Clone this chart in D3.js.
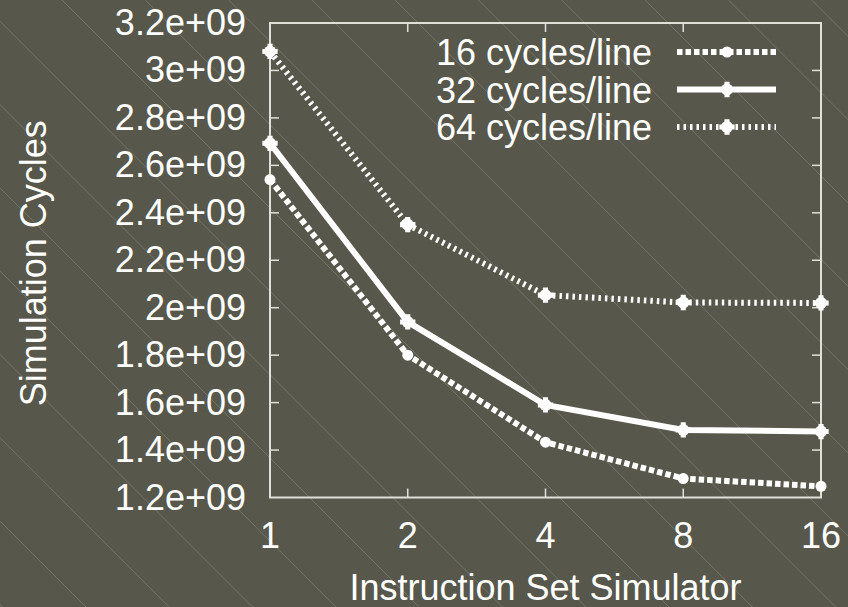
<!DOCTYPE html>
<html>
<head>
<meta charset="utf-8">
<script src="https://cdn.jsdelivr.net/npm/d3@7"></script>
<style>
  body{margin:0;background:#56564a;}
  svg{display:block;}
  text{font-family:"Liberation Sans",Arial,sans-serif;fill:#fff;}
</style>
</head>
<body>
<svg id="chart"></svg>
<script>
// simulator counts on x, one series per cache line latency
const simulators=[1,2,4,8,16];
const cycles16=[2.54e9,1.80e9,1.433e9,1.28e9,1.247e9];
const cycles32=[2.693e9,1.94e9,1.59e9,1.485e9,1.478e9];
const cycles64=[3.08e9,2.35e9,2.053e9,2.022e9,2.02e9];
const seriesNames=["16 cycles/line","32 cycles/line","64 cycles/line"];
const yTicks=[1.2e9,1.4e9,1.6e9,1.8e9,2e9,2.2e9,2.4e9,2.6e9,2.8e9,3e9,3.2e9];

window.onload=function(){
	const W=848,H=607;
	const margin={left:270,top:23,right:27,bottom:109.5};
	const svg=d3.select("#chart").attr("width",W).attr("height",H);

	//background with thin diagonal stripes
	svg.append("rect").attr("width",W).attr("height",H).attr("fill","#57574b");
	const sp=83.3;
	svg.append("g").selectAll("line")
		.data(d3.range(-9,12))
		.enter().append("line")
			.attr("x1",function(k){return 62+k*sp;})
			.attr("y1",0)
			.attr("x2",function(k){return 62+k*sp+H;})
			.attr("y2",H)
			.style("stroke","#7c7c70")
			.style("stroke-width",0.8);

	const x=d3.scaleLog().base(2).domain([1,16]).range([margin.left,W-margin.right]);
	const y=d3.scaleLinear().domain([1.2e9,3.2e9]).range([H-margin.bottom,margin.top]);
	const fmt=function(v){return (+(v/1e9).toFixed(1))+"e+09";};
	const axisCol="#e0e0d8";

	//ticks on all four sides, pointing in
	const inner=simulators.slice(1,-1),innerY=yTicks.slice(1,-1);
	const tk=svg.append("g").style("stroke",axisCol).style("stroke-width",1.5);
	tk.selectAll(".tb").data(inner).enter().append("line")
		.attr("x1",function(d){return x(d);}).attr("x2",function(d){return x(d);})
		.attr("y1",y.range()[0]).attr("y2",y.range()[0]-9);
	tk.selectAll(".tt").data(inner).enter().append("line")
		.attr("x1",function(d){return x(d);}).attr("x2",function(d){return x(d);})
		.attr("y1",y.range()[1]).attr("y2",y.range()[1]+9);
	tk.selectAll(".tl").data(innerY).enter().append("line")
		.attr("y1",function(d){return y(d);}).attr("y2",function(d){return y(d);})
		.attr("x1",x.range()[0]).attr("x2",x.range()[0]+9);
	tk.selectAll(".tr").data(innerY).enter().append("line")
		.attr("y1",function(d){return y(d);}).attr("y2",function(d){return y(d);})
		.attr("x1",x.range()[1]).attr("x2",x.range()[1]-9);
	svg.append("rect")
		.attr("x",x.range()[0]).attr("y",y.range()[1])
		.attr("width",x.range()[1]-x.range()[0]).attr("height",y.range()[0]-y.range()[1])
		.attr("fill","none").style("stroke",axisCol).style("stroke-width",2);

	//tick labels
	svg.append("g").selectAll("text").data(yTicks).enter().append("text")
		.attr("x",246).attr("y",function(d){return y(d)+12;})
		.attr("text-anchor","end").style("font-size","36px")
		.text(fmt);
	svg.append("g").selectAll("text").data(simulators).enter().append("text")
		.attr("x",function(d){return x(d);}).attr("y",548)
		.attr("text-anchor","middle").style("font-size","36px")
		.text(function(d){return d;});

	//axis titles
	svg.append("text")
		.attr("transform","translate(46,"+((y.range()[0]+y.range()[1])/2+3)+") rotate(-90)")
		.attr("text-anchor","middle").style("font-size","36px")
		.text("Simulation Cycles");
	svg.append("text")
		.attr("x",(x.range()[0]+x.range()[1])/2).attr("y",600)
		.attr("text-anchor","middle").style("font-size","36px")
		.text("Instruction Set Simulator");

	//series
	const styles=[
		{dash:"5.5,3",mark:"circle"},
		{dash:null,mark:"star"},
		{dash:"2.5,4",mark:"star"}
	];
	const allSeries=[cycles16,cycles32,cycles64];
	const line=d3.line().x(function(d){return x(d[0]);}).y(function(d){return y(d[1]);});

	function marker(g,cx,cy,type){
		g.append("circle").attr("cx",cx).attr("cy",cy).attr("r",type==="circle"?5.5:6).attr("fill","#fff");
		if(type!=="circle"){
			g.append("path").attr("transform","translate("+cx+","+cy+")")
				.attr("d",d3.symbol().type(d3.symbolCross).size(130)()).attr("fill","#fff");
		}
	}

	allSeries.forEach(function(vals,i){
		const pts=simulators.map(function(s,j){return [s,vals[j]];});
		const g=svg.append("g");
		g.append("path").attr("d",line(pts))
			.attr("fill","none").style("stroke","#fff").style("stroke-width",6)
			.style("stroke-dasharray",styles[i].dash);
		pts.forEach(function(p){marker(g,x(p[0]),y(p[1]),styles[i].mark);});

		//legend
		const ly=52+i*37.5;
		svg.append("text").attr("x",652).attr("y",ly+13)
			.attr("text-anchor","end").style("font-size","36px").text(seriesNames[i]);
		const lg=svg.append("g");
		lg.append("line").attr("x1",677).attr("x2",776).attr("y1",ly).attr("y2",ly)
			.style("stroke","#fff").style("stroke-width",6)
			.style("stroke-dasharray",styles[i].dash);
		marker(lg,727,ly,styles[i].mark);
	});
};
</script>
</body>
</html>
